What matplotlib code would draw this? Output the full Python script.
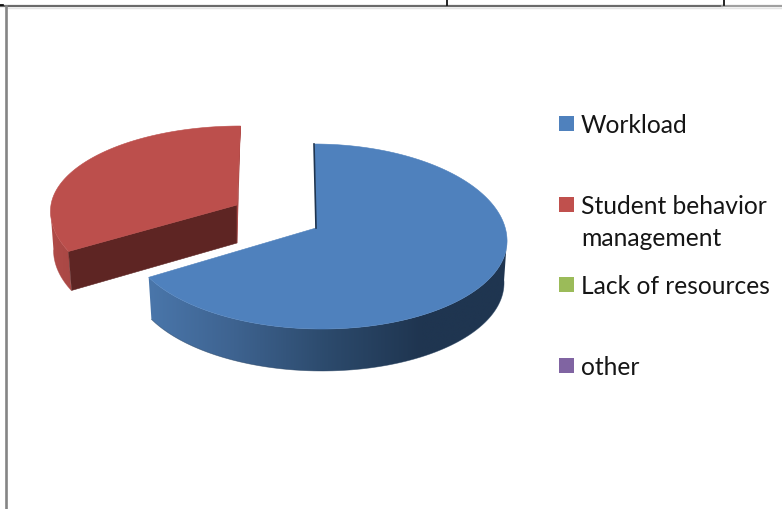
import numpy as np
import matplotlib
matplotlib.use('Agg')
import matplotlib.pyplot as plt
from matplotlib.colors import LinearSegmentedColormap
from matplotlib.patches import Rectangle, Polygon

categories = ['Workload', 'Student behavior\nmanagement', 'Lack of resources', 'other']
values = [68, 32, 0, 0]
colors = ['#4F81BD', '#C0504D', '#9BBB59', '#8064A2']

plt.rcParams['font.family'] = ['Lato', 'DejaVu Sans']

fig = plt.figure(figsize=(7.82, 5.10), dpi=100)
ax = fig.add_axes([0, 0, 1, 1])
ax.axis('off')

# page lines around the chart
ax.plot([0, 722], [6.5, 6.5], color='#6a6a6a', lw=1.6)
ax.plot([722, 782], [6.5, 6.5], color='#a0a0a0', lw=1.6)
ax.plot([5, 782], [8.5, 8.5], color='#e4e4e4', lw=1)
ax.plot([5.7, 5.7], [7, 510], color='#858585', lw=1.9)
ax.plot([447, 447], [0, 6], color='black', lw=1.2)
ax.plot([723.5, 723.5], [0, 6], color='black', lw=1.2)
ax.plot([0, 3], [6, 6], color='black', lw=1.2)


def rim(theta, g, shrink=0, drop=0):
    x = g['cx'] + (g['rx'] - shrink) * np.sin(theta) + g['shear'] * np.cos(theta)
    ry = np.where(np.cos(theta) > 0, g['ry_up'], g['ry_low'])
    y = g['cy'] - ry * np.cos(theta) + drop
    return x, y


# where each visible slice sits on the page
blue = dict(cx=318, cy=240, rx=189, ry_up=95, ry_low=90, shear=-4, tip=(316, 229), depth=42, shrink=3)
red = dict(cx=240.5, cy=212, rx=190, ry_up=85, ry_low=95, shear=0, tip=(237, 206), depth=39, shrink=3)

side_blue = LinearSegmentedColormap.from_list('b', ['#4B78AD', '#3E6390', '#2C4A6C', '#1F3550', '#1F3550'])
side_red = LinearSegmentedColormap.from_list('r', ['#B24C49', '#A84744'])

edges = 2 * np.pi * np.concatenate([[0], np.cumsum(values)]) / np.sum(values)


def draw_side(t0, t1, g, cmap, x0, x1):
    # outer wall, only the front half of the rim shows
    t0, t1 = max(t0, np.pi / 2), min(t1, 3 * np.pi / 2)
    t = np.linspace(t0, t1, 160)
    xa, ya = rim(t, g)
    xb, yb = rim(t, g, g['shrink'], g['depth'])
    pts = np.column_stack([np.r_[xa, xb[::-1]], np.r_[ya, yb[::-1]]])
    shape = Polygon(pts, closed=True, transform=ax.transData, facecolor='none', edgecolor='none')
    ax.add_patch(shape)
    im = ax.imshow(np.linspace(0, 1, 256).reshape(1, -1), cmap=cmap, aspect='auto',
                   extent=(x0, x1, pts[:, 1].max() + 1, pts[:, 1].min() - 1), interpolation='bilinear')
    im.set_clip_path(shape)
    # outline in same tone so the clipped edge is not jagged
    ax.plot(xb, yb, color=cmap(0.6), lw=0.5, alpha=0.6)


def draw_top(t0, t1, g, color):
    t = np.linspace(t0, t1, 240)
    x, y = rim(t, g)
    ax.fill(np.r_[g['tip'][0], x], np.r_[g['tip'][1], y], facecolor=color, edgecolor=color, lw=0.4)


# blue slice
t0, t1 = edges[0], edges[1]
x0, y0 = rim(np.array([t1]), blue)
draw_side(t0, t1, blue, side_blue, 140, 515)
x0, y0 = rim(np.array([t0]), blue)
ax.plot([x0[0], blue['tip'][0]], [y0[0], blue['tip'][1]], color='#1F3550', lw=1.2)
draw_top(t0 + 0.003, t1, blue, colors[0])

# red slice, pulled out of the pie
t0, t1 = edges[1], edges[2]
xs, ys = rim(np.array([t0]), red)
xe, ye = rim(np.array([t1]), red)
tx, ty = red['tip']
ax.fill([tx, xs[0], xs[0] + 3, tx], [ty, ys[0], ys[0] + red['depth'], ty + 38],
        facecolor='#5E2523', edgecolor='#5E2523', lw=0.4)
ax.fill([xe[0], tx, tx, xe[0] - 1], [ye[0], ty, ty + 38, ye[0] + 30],
        facecolor='#A84744', edgecolor='#A84744', lw=0.4)
draw_side(t0, t1, red, side_red, 45, 75)
draw_top(t0, t1, red, '#BC4F4C')

# legend, one swatch per category
ypos = [124.5, 205.5, 285.5, 366.5]
for name, c, y in zip(categories, colors, ypos):
    ax.add_patch(Rectangle((559, y - 7.5), 15, 15, facecolor=c, edgecolor='none'))
    ax.text(581, y + 9, name.split('\n')[0], fontsize=17.7, color='#151515', va='baseline', ha='left')
    if '\n' in name:
        ax.text(581, y + 41, name.split('\n')[1], fontsize=17.7, color='#151515', va='baseline', ha='left')

ax.set_xlim(0, 782)
ax.set_ylim(510, 0)

fig.savefig('out.png', dpi=100)
